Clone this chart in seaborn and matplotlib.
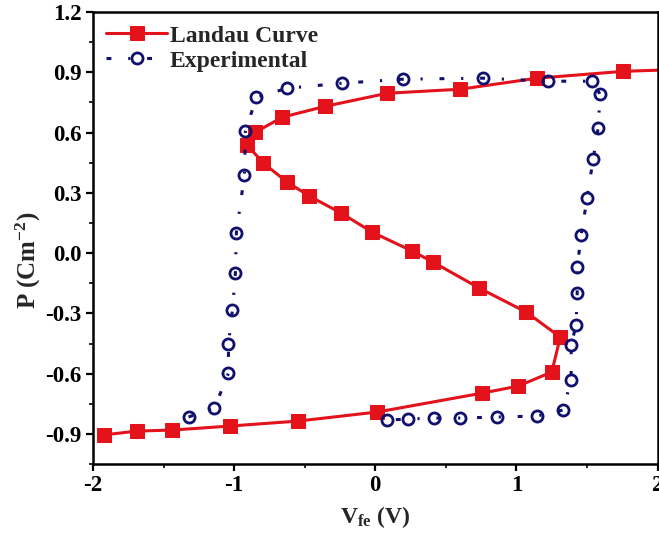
import numpy as np
import pandas as pd
import matplotlib
matplotlib.use("Agg")
import matplotlib.pyplot as plt
import seaborn as sns
from matplotlib.ticker import MultipleLocator

# ---- data ----
landau_v = [-1.92, -1.69, -1.44, -1.03, -0.545, 0.014, 0.757, 1.012, 1.25, 1.31,
            1.07, 0.736, 0.41, 0.262, -0.021, -0.241, -0.467, -0.623, -0.793, -0.906,
            -0.849, -0.658, -0.354, 0.085, 0.60, 1.146, 1.755, 2.05]
landau_p = [-0.905, -0.886, -0.881, -0.861, -0.836, -0.791, -0.697, -0.662, -0.592, -0.418,
            -0.294, -0.174, -0.045, 0.010, 0.104, 0.199, 0.284, 0.353, 0.448, 0.537,
            0.602, 0.677, 0.731, 0.796, 0.816, 0.871, 0.905, 0.912]

exp_v = [-1.323, -1.139, -1.040, -1.040, -1.012, -0.991, -0.984, -0.927, -0.920, -0.842,
         -0.623, -0.234, 0.198, 0.764, 1.224, 1.536, 1.592, 1.578, 1.543, 1.500,
         1.458, 1.430, 1.430, 1.422, 1.387, 1.387, 1.330, 1.146, 0.863, 0.602,
         0.418, 0.234, 0.085]
exp_p = [-0.816, -0.771, -0.597, -0.453, -0.284, -0.100, 0.100, 0.388, 0.607, 0.776,
         0.821, 0.846, 0.866, 0.871, 0.856, 0.856, 0.791, 0.622, 0.468, 0.274,
         0.090, -0.070, -0.199, -0.358, -0.458, -0.632, -0.781, -0.811, -0.816, -0.821,
         -0.821, -0.826, -0.831]

x_ticks = [-2, -1, 0, 1, 2]
y_ticks = [-0.9, -0.6, -0.3, 0.0, 0.3, 0.6, 0.9, 1.2]
series_labels = ["Landau Curve", "Experimental"]

RED = "#e3121b"
NAVY = "#10106e"

sns.set_style("ticks")
plt.rcParams["font.family"] = ["Liberation Serif", "DejaVu Serif"]
plt.rcParams["font.weight"] = "bold"
plt.rcParams["mathtext.fontset"] = "custom"
plt.rcParams["mathtext.rm"] = "Liberation Serif:bold"
plt.rcParams["mathtext.bf"] = "Liberation Serif:bold"
plt.rcParams["mathtext.it"] = "Liberation Serif:bold"

fig = plt.figure(figsize=(6.59, 5.38), dpi=100)
ax = fig.add_axes([0.141, 0.1375, 0.857, 0.840])

df_l = pd.DataFrame({"V": landau_v, "P": landau_p})
df_e = pd.DataFrame({"V": exp_v, "P": exp_p})

sns.lineplot(data=df_l, x="V", y="P", sort=False, estimator=None, ax=ax,
             color=RED, linewidth=2.2, marker="s", markersize=9.5,
             markeredgecolor=RED, markerfacecolor=RED)
sns.lineplot(data=df_e, x="V", y="P", sort=False, estimator=None, ax=ax,
             color=NAVY, linewidth=2.2, marker="o", markersize=8,
             markerfacecolor="none", markeredgecolor=NAVY, markeredgewidth=2.0)

lines = ax.get_lines()
lines[1].set_linestyle((0, (1.6, 5.5, 0.7, 5.5)))

ax.set_xlim(-2, 2)
ax.set_ylim(-1.05, 1.2)
ax.set_xticks(x_ticks)
ax.set_yticks(y_ticks)
ax.xaxis.set_minor_locator(MultipleLocator(0.5))
ax.yaxis.set_minor_locator(MultipleLocator(0.15))
ax.set_xticklabels([str(t) for t in x_ticks])
ax.set_yticklabels([f"{t:.1f}" for t in y_ticks])
ax.tick_params(axis="both", which="major", direction="out", length=5, width=1.6,
               labelsize=16.5, colors="black", pad=3)
ax.tick_params(axis="both", which="minor", direction="out", length=3, width=1.4)
for lab in ax.get_xticklabels() + ax.get_yticklabels():
    lab.set_fontweight("bold")
for s in ax.spines.values():
    s.set_visible(True)
    s.set_linewidth(1.8)
    s.set_color("black")

ax.set_xlabel(r"$\mathbf{V_{fe}}$ (V)", fontsize=17, fontweight="bold", labelpad=6)
ax.set_ylabel(r"P (Cm$^{\mathbf{-2}}$)", fontsize=18, fontweight="bold")
ax.yaxis.set_label_coords(-0.088, 0.45)

ax.legend(lines[:2], series_labels, loc="upper left", frameon=False,
          prop={"family": "Liberation Serif", "weight": "bold", "size": 17},
          handlelength=2.6, handletextpad=0.1, borderaxespad=0.15,
          labelspacing=0.15, bbox_to_anchor=(0.0, 1.0))

fig.savefig("out.png", dpi=100)
